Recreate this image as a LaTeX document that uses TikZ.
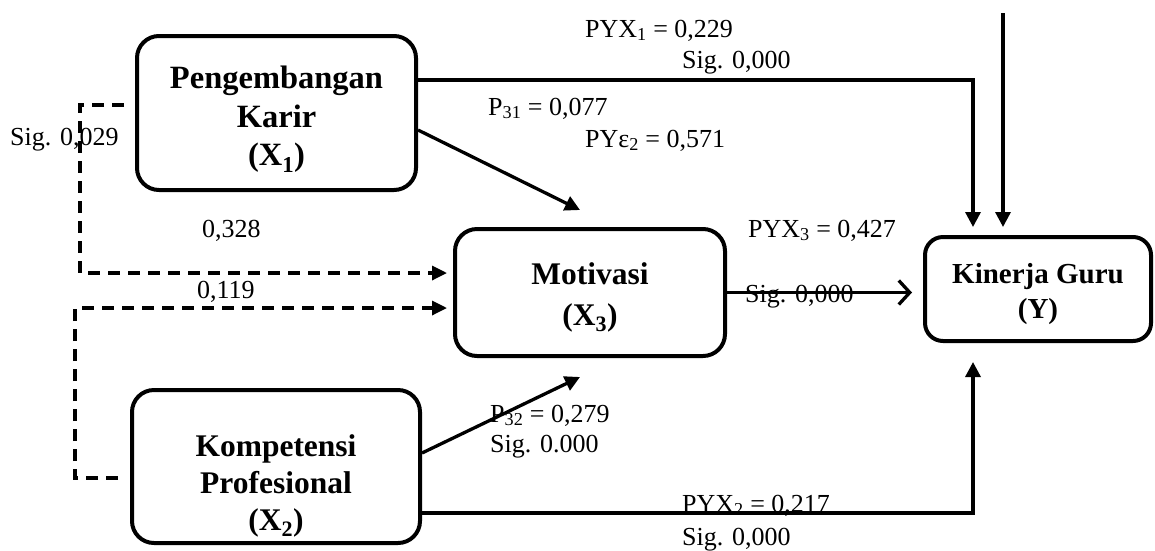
\documentclass[tikz,border=0pt]{standalone}
\usepackage{fontspec}
\setmainfont{Liberation Serif}
\usetikzlibrary{arrows.meta}
\begin{document}
\begin{tikzpicture}[x=1pt,y=-1pt,
  box/.style={draw, line width=4pt, rounded corners=22pt, inner sep=0pt},
  btext/.style={align=center, font=\fontsize{31.5}{37}\selectfont\bfseries, inner sep=0pt},
  lab/.style={anchor=base west, font=\fontsize{26}{30}\selectfont, inner sep=0pt},
  arr/.style={line width=3.3pt, -{Triangle[length=15pt,width=15pt]}},
  openarr/.style={line width=3.3pt, -{Straight Barb[length=11pt,width=24pt,line width=3.3pt]}},
  darr/.style={line width=3.3pt, dash pattern=on 12pt off 8pt, -{Triangle[length=15pt,width=14pt]}}
]
\useasboundingbox (0,0) rectangle (1155,550);

% boxes
\node[box, minimum width=279pt, minimum height=154pt] (X1) at (276.5,113) {};
\node[box, minimum width=288pt, minimum height=153pt] (X2) at (276,466.5) {};
\node[box, minimum width=270pt, minimum height=127pt] (X3) at (590,292.5) {};
\node[box, minimum width=226pt, minimum height=104pt, rounded corners=18pt] (Y) at (1038,289) {};

% box texts
\node[btext, font=\fontsize{32.5}{38.5}\selectfont\bfseries] (X1t) at (276.5,119.5) {Pengembangan\\Karir\\(X\textsubscript{1})};
\node[btext] (X2t) at (276,486) {Kompetensi\\Profesional\\(X\textsubscript{2})};
\node[btext] (X3t) at (590,297.5) {Motivasi\\[4pt](X\textsubscript{3})};
\node[btext, font=\fontsize{29}{35}\selectfont\bfseries] (Yt) at (1038,294) {Kinerja Guru\\(Y)};

% helper coordinates
\coordinate (e0) at (1003,13);
\coordinate (d1) at (80,273);
\coordinate (d2) at (75,308);

% labels
\node[lab] (l1) at (585,37) {PYX\textsubscript{1} = 0,229};
\node[lab] (l2) at (682,68) {Sig. 0,000};
\node[lab] (l3) at (488,115) {P\textsubscript{31} = 0,077};
\node[lab] (l4) at (585,147) {PYε\textsubscript{2} = 0,571};
\node[lab] (l5) at (748,237) {PYX\textsubscript{3} = 0,427};
\node[lab] (l6) at (745,302) {Sig. 0,000};
\node[lab] (l7) at (490,422) {P\textsubscript{32} = 0,279};
\node[lab] (l8) at (490,452) {Sig. 0.000};
\node[lab] (l9) at (682,512) {PYX\textsubscript{2} = 0,217};
\node[lab] (l10) at (682,545) {Sig. 0,000};
\node[lab] (l11) at (10,145) {Sig. 0,029};
\node[lab] (l12) at (202,237) {0,328};
\node[lab] (l13) at (197,298) {0,119};

% connectors
\draw[arr] ([yshift=33pt]X1.east) -| ([xshift=-65pt,yshift=8pt]Y.north);
\draw[arr, shorten >=8pt] (e0) -- (e0 |- Y.north);
\draw[arr] ([yshift=-17pt]X1.east) -- ([xshift=-10pt,yshift=17pt]X3.north);
\draw[arr] ([yshift=13.5pt]X2.east) -- ([xshift=-10pt,yshift=-19pt]X3.south);
\draw[arr] ([yshift=-46.5pt]X2.east) -| ([xshift=-65pt,yshift=-19pt]Y.south);
\draw[openarr, shorten >=11pt] (X3.east) -- (X3.east -| Y.west);
\draw[darr, shorten >=6pt] ([xshift=-11pt,yshift=8pt]X1.west) -| (d1) -- (d1 -| X3.west);
\draw[darr, shorten >=6pt] ([xshift=-12pt,yshift=-11.5pt]X2.west) -| (d2) -- (d2 -| X3.west);
\end{tikzpicture}
\end{document}
